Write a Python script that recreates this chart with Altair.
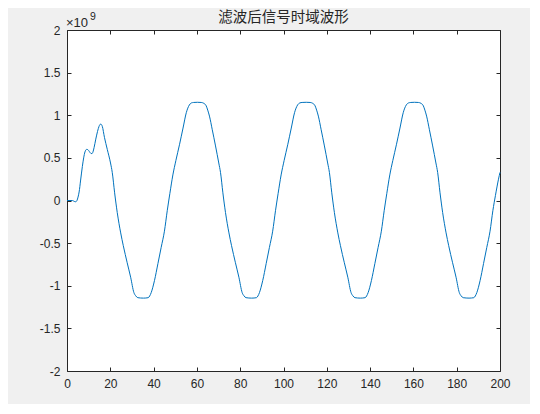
import altair as alt
import pandas as pd

# ---- data (y in units of 1e9) ----
x_vals = [
    0, 2.5, 3.3, 4.0, 4.6, 5.1, 5.6, 6.3, 7.1, 7.7, 8.3, 9.1, 9.7, 10.3, 11.0, 11.5, 12.0, 12.5,
    13.3, 14.1, 14.8, 15.4, 15.8, 16.3, 17.3, 18.6, 20.1, 20.9, 22.0, 23.2, 24.8, 26.0, 27.8,
    29.4, 30.9, 31.8, 32.7, 35.3, 37.5,
    38.2, 38.9, 40.4, 42.0, 43.5, 45.0, 46.3, 47.5, 48.9, 50.3, 52.0, 53.6, 55.1, 56.5, 57.5,
    58.5, 60.2, 62.0,
    63.2, 64.3, 65.0, 65.8, 67.1, 68.6, 70.1, 70.9, 72.0, 73.2, 74.8, 76.0, 77.8, 79.4, 80.9,
    81.8, 82.7, 85.3, 87.5,
    88.2, 88.9, 90.4, 92.0, 93.5, 95.0, 96.3, 97.5, 98.9, 100.3, 102.0, 103.6, 105.1, 106.5,
    107.6, 108.6, 110.5, 112.3,
    113.5, 114.6, 115.3, 116.1, 117.4, 118.9, 120.4, 121.2, 122.3, 123.5, 125.1, 126.3, 128.1,
    129.7, 131.2, 132.1, 133.0, 135.5, 137.7,
    138.4, 139.1, 140.6, 142.2, 143.7, 145.2, 146.5, 147.7, 149.1, 150.5, 152.2, 153.8, 155.3,
    156.7, 157.8, 158.8, 160.5, 162.3,
    163.5, 164.6, 165.3, 166.1, 167.4, 168.9, 170.4, 171.2, 172.3, 173.5, 175.1, 176.3, 178.1,
    179.7, 181.2, 182.1, 183.0, 185.7, 187.9,
    188.6, 189.3, 190.8, 192.4, 193.9, 195.4, 196.7, 197.9, 199.3, 200.0,
]
y_vals = [
    0, 0, -0.01, -0.015, 0.0, 0.04, 0.10, 0.24, 0.40, 0.50, 0.57, 0.60, 0.595, 0.575, 0.553, 0.55, 0.57, 0.62,
    0.72, 0.81, 0.87, 0.895, 0.893, 0.87, 0.74, 0.60, 0.44, 0.33, 0.09, -0.14, -0.38, -0.53, -0.73,
    -0.90, -1.08, -1.12, -1.14, -1.145, -1.14,
    -1.12, -1.08, -0.94, -0.74, -0.55, -0.36, -0.12, 0.08, 0.30, 0.47, 0.66, 0.85, 1.03, 1.12, 1.145,
    1.15, 1.152, 1.15,
    1.14, 1.11, 1.06, 0.99, 0.83, 0.64, 0.44, 0.33, 0.09, -0.14, -0.38, -0.53, -0.73, -0.90, -1.08,
    -1.12, -1.14, -1.145, -1.14,
    -1.12, -1.08, -0.94, -0.74, -0.55, -0.36, -0.12, 0.08, 0.30, 0.47, 0.66, 0.85, 1.03, 1.12,
    1.145, 1.15, 1.152, 1.15,
    1.14, 1.11, 1.06, 0.99, 0.83, 0.64, 0.44, 0.33, 0.09, -0.14, -0.38, -0.53, -0.73,
    -0.90, -1.08, -1.12, -1.14, -1.145, -1.14,
    -1.12, -1.08, -0.94, -0.74, -0.55, -0.36, -0.12, 0.08, 0.30, 0.47, 0.66, 0.85, 1.03,
    1.12, 1.145, 1.15, 1.152, 1.15,
    1.14, 1.11, 1.06, 0.99, 0.83, 0.64, 0.44, 0.33, 0.09, -0.14, -0.38, -0.53, -0.73,
    -0.90, -1.08, -1.12, -1.14, -1.145, -1.14,
    -1.12, -1.08, -0.94, -0.74, -0.55, -0.36, -0.12, 0.06, 0.25, 0.33,
]
x_ticks = [0, 20, 40, 60, 80, 100, 120, 140, 160, 180, 200]
y_ticks = [-2, -1.5, -1, -0.5, 0, 0.5, 1, 1.5, 2]
title_text = "滤波后信号时域波形"
exp_text = "×10"
exp_power = "9"

df = pd.DataFrame({"t": x_vals, "v": y_vals})
one = pd.DataFrame({"a": [0]})

W, H = 433, 341
AX = "#262626"
FONT = "Liberation Sans"
xs = alt.Scale(domain=[0, 200], nice=False, zero=False)
ys = alt.Scale(domain=[-2, 2], nice=False, zero=False)


def label_axis(orient, vals):
    return alt.Axis(orient=orient, values=vals, title=None, grid=False, domain=False,
                    ticks=False, labelPadding=7, labelFontSize=12, labelColor=AX,
                    labelFont=FONT, labelFlush=False, labelExpr="'' + datum.value")


def tick_axis(orient, offset, vals):
    return alt.Axis(orient=orient, offset=offset, values=vals, title=None, grid=False,
                    domain=False, labels=False, ticks=True, tickSize=4, tickColor=AX,
                    tickWidth=1)


base = alt.Chart(df)

line = base.mark_line(color="#0072BD", strokeWidth=1.0, interpolate="monotone").encode(
    x=alt.X("t:Q", scale=xs, axis=label_axis("bottom", x_ticks)),
    y=alt.Y("v:Q", scale=ys, axis=label_axis("left", y_ticks)),
)

ticks_a = base.mark_line(opacity=0).encode(
    x=alt.X("t:Q", scale=xs, axis=tick_axis("top", -H, x_ticks)),
    y=alt.Y("v:Q", scale=ys, axis=tick_axis("right", -W, y_ticks)),
)
ticks_b = base.mark_line(opacity=0).encode(
    x=alt.X("t:Q", scale=xs, axis=tick_axis("bottom", -H, x_ticks)),
    y=alt.Y("v:Q", scale=ys, axis=tick_axis("left", -W, y_ticks)),
)

title_mark = alt.Chart(one).mark_text(
    text=title_text, align="center", baseline="middle", fontSize=14.5,
    font="Noto Sans CJK SC", color=AX
).encode(x=alt.value(W / 2), y=alt.value(-12))

exp_a = alt.Chart(one).mark_text(
    text=exp_text, align="left", baseline="alphabetic", fontSize=13, font=FONT, color=AX
).encode(x=alt.value(-1), y=alt.value(-3))
exp_b = alt.Chart(one).mark_text(
    text=exp_power, align="left", baseline="alphabetic", fontSize=10.5, font=FONT, color=AX
).encode(x=alt.value(23), y=alt.value(-10))

chart = alt.layer(line, ticks_a, ticks_b, title_mark, exp_a, exp_b).resolve_axis(
    x="independent", y="independent"
).properties(
    width=W,
    height=H,
    padding={"left": 59, "top": 22, "right": 30, "bottom": 33},
    autosize=alt.AutoSizeParams(type="none"),
    background="#f0f0f0",
).configure_view(stroke=AX, strokeWidth=1, fill="white")

chart.save("out.html", embed_options={"renderer": "svg", "actions": False})
